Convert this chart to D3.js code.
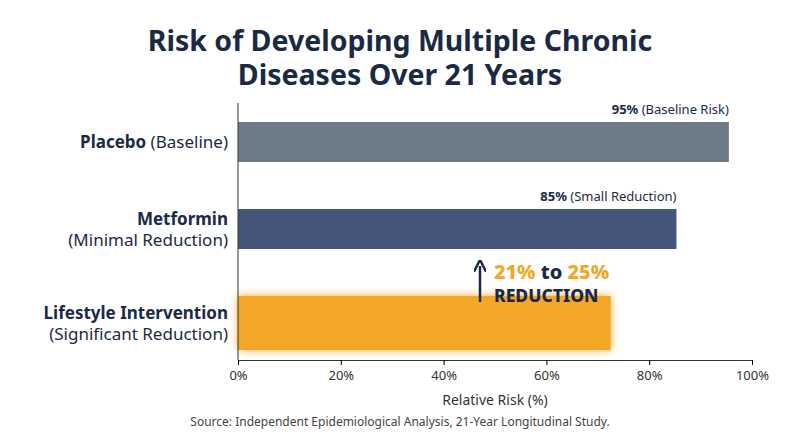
<!DOCTYPE html><html><head><meta charset="utf-8">
<script src="https://cdn.jsdelivr.net/npm/d3@7"></script>
<style>body{margin:0;background:#fff}text{font-family:"Noto Sans",sans-serif}</style></head><body>
<svg id="c" width="800" height="447"></svg>
<script>
const categories=["Placebo","Metformin","Lifestyle Intervention"];
const subLabels=["(Baseline)","(Minimal Reduction)","(Significant Reduction)"];
const values=[95.5,85.3,72.5];
const valueNotes=["(Baseline Risk)","(Small Reduction)",""];
const colors=["#6E7B89","#45567A","#F2A725"];
const ticks=[0,20,40,60,80,100];
const navy="#1B2A44";
const svg=d3.select("#c");
const defs=svg.append("defs");
const f=defs.append("filter").attr("id","glow").attr("x","-20%").attr("y","-50%").attr("width","140%").attr("height","200%");
f.append("feGaussianBlur").attr("stdDeviation",4).attr("result","b");
const m=f.append("feMerge");m.append("feMergeNode").attr("in","b");m.append("feMergeNode").attr("in","SourceGraphic");
svg.append("text").attr("x",400).attr("y",51).attr("text-anchor","middle").attr("font-size",28.5).attr("font-weight",700).attr("fill",navy).text("Risk of Developing Multiple Chronic");
svg.append("text").attr("x",400).attr("y",85).attr("text-anchor","middle").attr("font-size",28.5).attr("font-weight",700).attr("fill",navy).text("Diseases Over 21 Years");
const x=d3.scaleLinear().domain([0,100]).range([238,752]);
const bands=[[122,162],[209,249],[296,350]];
categories.forEach((c,i)=>{
 const [t,b]=bands[i];
 svg.append("rect").attr("x",x(0)).attr("y",t).attr("width",x(values[i])-x(0)).attr("height",b-t).attr("fill",colors[i]).attr("filter",i==2?"url(#glow)":null);
 const cy=(t+b)/2;
 if(i==0){const tx=svg.append("text").attr("x",228).attr("y",cy+6).attr("text-anchor","end").attr("font-size",17).attr("fill",navy);
  tx.append("tspan").attr("font-weight",700).text(c+" ");tx.append("tspan").text(subLabels[i]);}
 else{svg.append("text").attr("x",228).attr("y",cy-4).attr("text-anchor","end").attr("font-size",17).attr("font-weight",700).attr("fill",navy).text(c);
  svg.append("text").attr("x",228).attr("y",cy+17).attr("text-anchor","end").attr("font-size",17).attr("fill",navy).text(subLabels[i]);}
 if(valueNotes[i]){const tx=svg.append("text").attr("x",x(values[i])).attr("y",t-8).attr("text-anchor","end").attr("font-size",13).attr("fill",navy);
  tx.append("tspan").attr("font-weight",700).text(Math.round(values[i]-0.4)+"% ");tx.append("tspan").text(valueNotes[i]);}
});
svg.append("line").attr("x1",x(0)).attr("x2",x(0)).attr("y1",103).attr("y2",360).attr("stroke","#333");
const ax=svg.append("g").attr("transform","translate(0,360)").call(d3.axisBottom(x).tickValues(ticks).tickFormat(d=>d+"%").tickSize(5));
ax.select(".domain").attr("stroke","#333");
ax.selectAll("text").attr("font-size",13).attr("fill","#333").attr("dy","0.9em").style("font-family","Noto Sans");
svg.append("text").attr("x",x(50)).attr("y",405).attr("text-anchor","middle").attr("font-size",14).attr("fill","#333").text("Relative Risk (%)");
svg.append("text").attr("x",400).attr("y",426).attr("text-anchor","middle").attr("font-size",12).attr("fill","#444").text("Source: Independent Epidemiological Analysis, 21-Year Longitudinal Study.");
defs.append("marker").attr("id","ah").attr("viewBox","0 0 10 10").attr("refX",5).attr("refY",5).attr("markerWidth",5).attr("markerHeight",5).attr("orient","auto").append("path").attr("d","M0,0L10,5L0,10").attr("fill","none").attr("stroke",navy).attr("stroke-width",2);
svg.append("line").attr("x1",480).attr("x2",480).attr("y1",302).attr("y2",266).attr("stroke",navy).attr("stroke-width",2.5).attr("marker-end","url(#ah)");
const a=svg.append("text").attr("x",494).attr("y",279).attr("font-size",20).attr("font-weight",800);
a.append("tspan").attr("fill","#F2A725").text("21%");a.append("tspan").attr("fill",navy).text(" to ");a.append("tspan").attr("fill","#F2A725").text("25%");
svg.append("text").attr("x",494).attr("y",302).attr("font-size",17.5).attr("font-weight",800).attr("fill",navy).text("REDUCTION");
</script></body></html>
